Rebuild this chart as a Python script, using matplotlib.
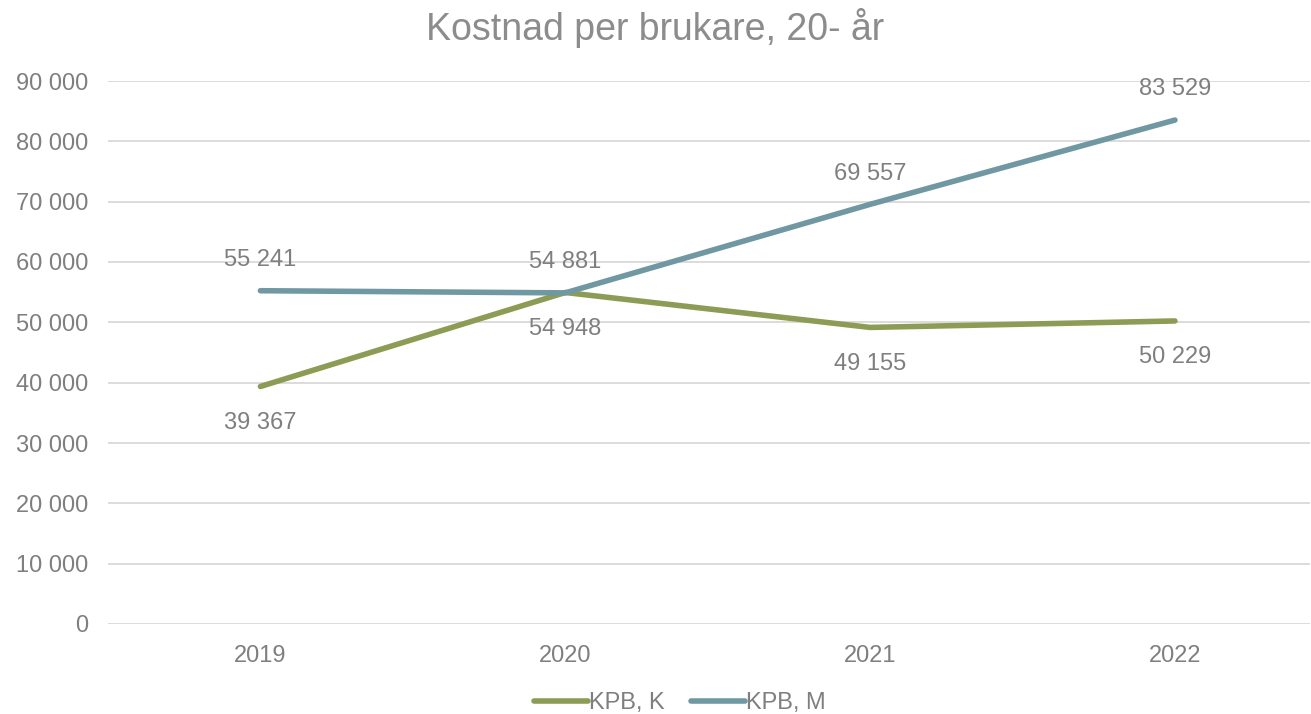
import matplotlib.pyplot as plt
from matplotlib.ticker import FuncFormatter

years = ['2019', '2020', '2021', '2022']
kpb_k = [39367, 54948, 49155, 50229]
kpb_m = [55241, 54881, 69557, 83529]
yticks = list(range(0, 90001, 10000))

plt.rcParams['font.family'] = ['Liberation Sans', 'DejaVu Sans']
grey = '#7f7f7f'
green = '#8d9c55'
blue = '#7098a2'


def fmt(v):
    return f'{int(v):,}'.replace(',', ' ')


fig = plt.figure(figsize=(13.11, 7.14), dpi=100)
ax = fig.add_axes([108 / 1311, 1 - 624 / 714, (1310 - 108) / 1311, (624 - 81) / 714])

x = range(len(years))
ax.plot(x, kpb_k, color=green, lw=4, solid_capstyle='round', label='KPB, K', zorder=3)
ax.plot(x, kpb_m, color=blue, lw=4, solid_capstyle='round', label='KPB, M', zorder=3)

for i, v in enumerate(kpb_k):
    ax.annotate(fmt(v), (i, v), xytext=(0, -26), textcoords='offset points',
                ha='center', va='center', fontsize=17, color=grey)
for i, v in enumerate(kpb_m):
    ax.annotate(fmt(v), (i, v), xytext=(0, 22), textcoords='offset points',
                ha='center', va='center', fontsize=17, color=grey)

ax.set_xlim(-0.5, 3.443)
ax.set_ylim(0, 90000)
ax.set_xticks(list(x))
ax.set_xticklabels(years)
ax.set_yticks(yticks)
ax.yaxis.set_major_formatter(FuncFormatter(lambda v, p: fmt(v)))
ax.tick_params(length=0, labelsize=17, labelcolor=grey, pad=14)
ax.tick_params(axis='x', pad=15)
ax.grid(axis='y', color='#d9d9d9', lw=1.3)
ax.set_axisbelow(True)
for s in ax.spines.values():
    s.set_visible(False)

fig.text(0.5, 1 - 28 / 714, 'Kostnad per brukare, 20- år', ha='center', va='center',
         fontsize=27, color='#8c8c8c')

fig.legend(loc='center', bbox_to_anchor=(680 / 1311, 1 - 703 / 714), ncol=2, frameon=False,
           fontsize=17, labelcolor=grey, handlelength=2.3, handletextpad=0.05,
           columnspacing=1.1)

fig.savefig('out.png', dpi=100)
